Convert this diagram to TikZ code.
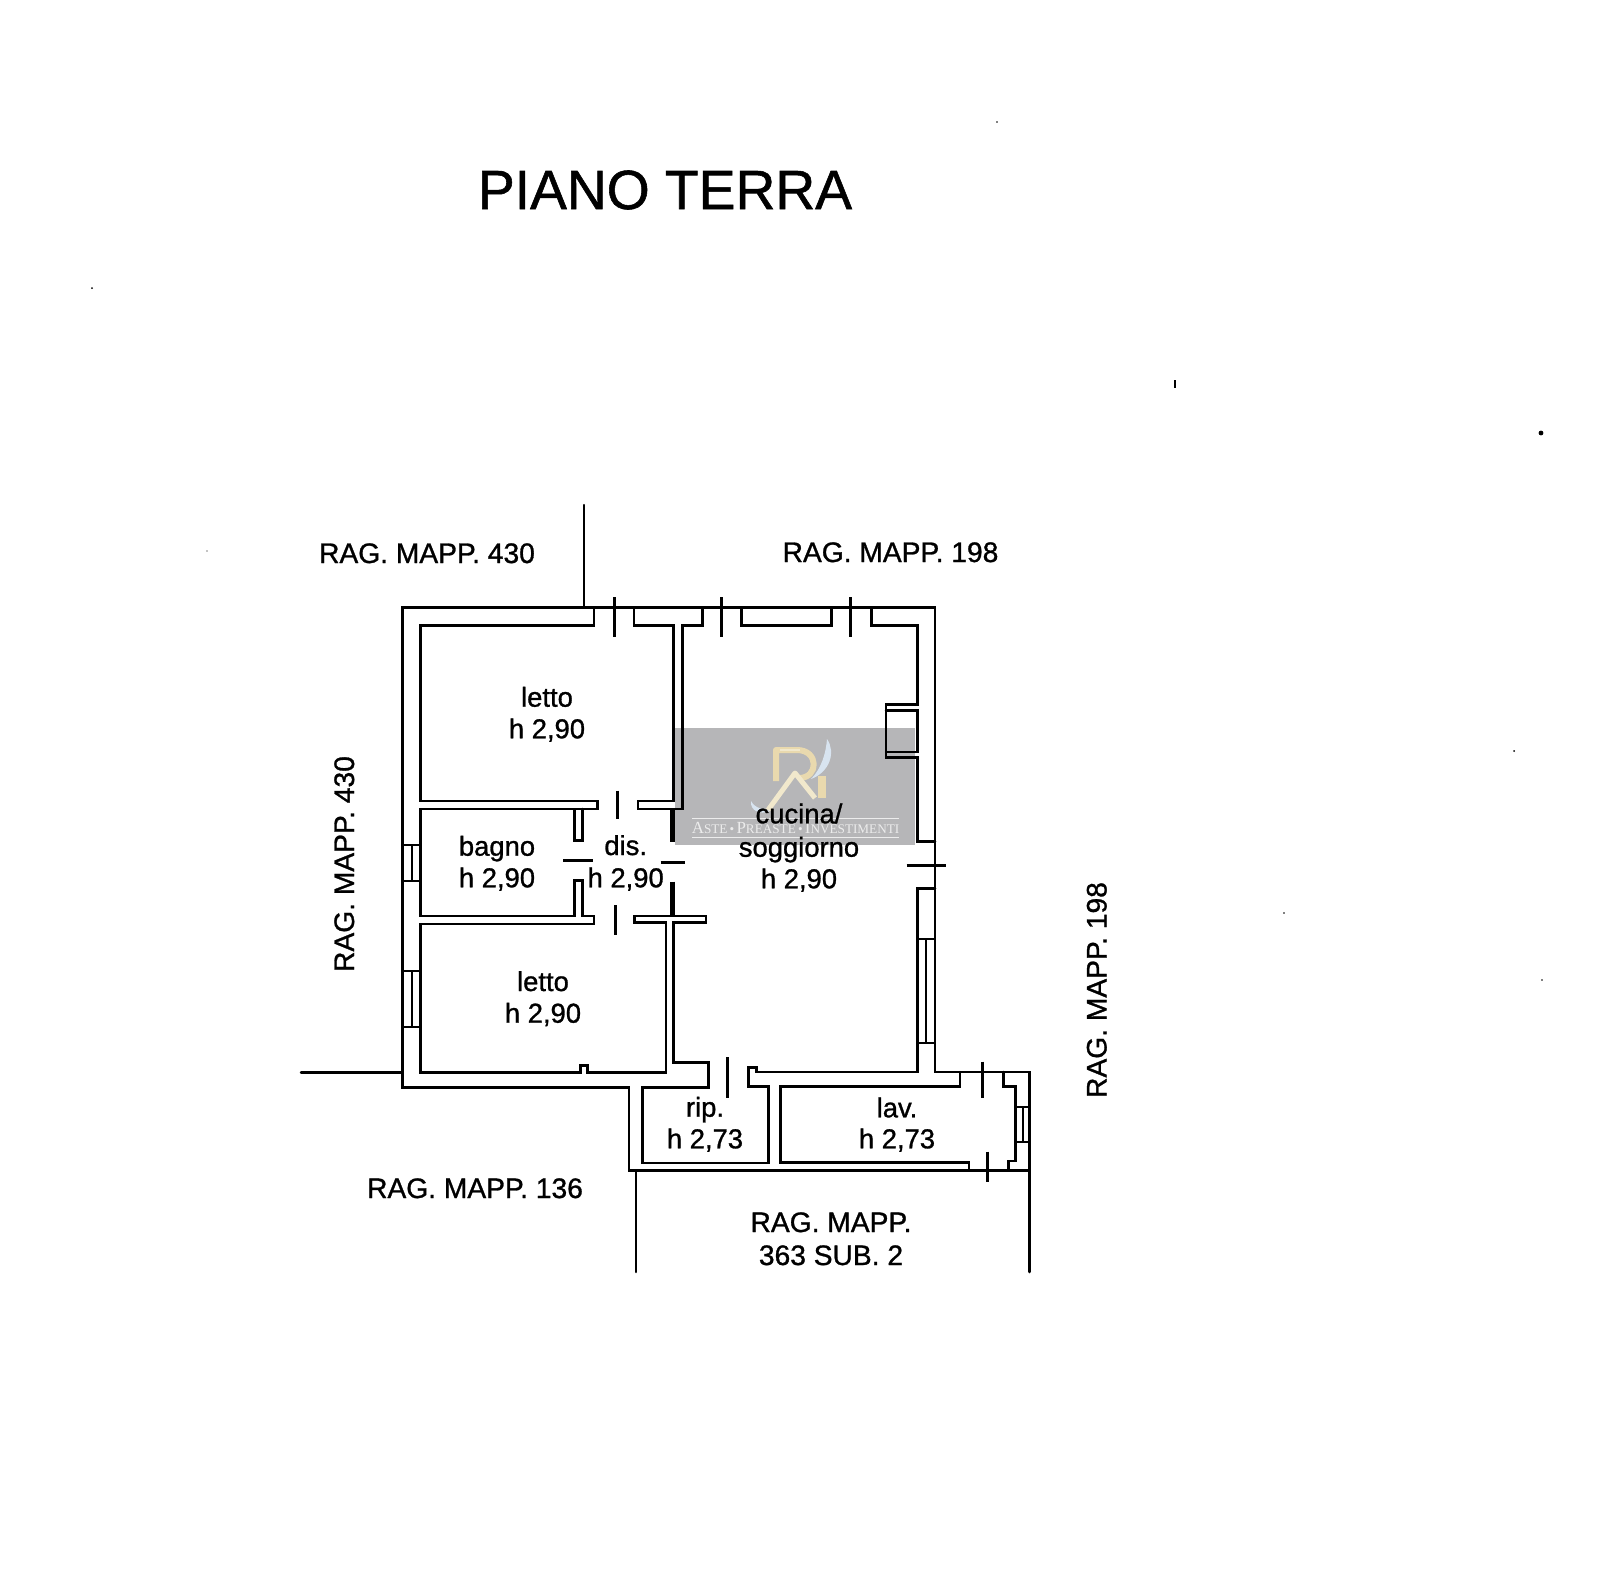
\documentclass[tikz,border=0pt]{standalone}
\usepackage{fontspec}
\setmainfont{Liberation Sans}
\newfontfamily\wmfont{Liberation Serif}
\newfontfamily\planfont[FakeBold=1.0]{Liberation Sans}
\newfontfamily\titlefont[FakeBold=1.0]{Liberation Sans}
\definecolor{wmgrey}{HTML}{B6B6B8}
\definecolor{wmgold}{HTML}{E9D9AE}
\definecolor{wmgoldb}{HTML}{F1E8CC}
\definecolor{wmblue}{HTML}{D8E4F0}
\definecolor{wmtext}{HTML}{ECECEC}
\newcommand{\fsz}[1]{\fontsize{#1}{#1}\selectfont}
\newcommand{\bg}[1]{{\fsz{17}#1}}
\newcommand{\sm}[1]{{\fsz{13.2}#1}}
\tikzset{
  wall/.style={draw=black,line width=2.5pt,line join=miter,line cap=round},
  thin wall/.style={draw=black,line width=2pt},
  door/.style={draw=black,line width=3pt,line cap=butt},
  heavy/.style={draw=black,line width=4.6pt,line cap=butt},
  lbl/.style={inner sep=0pt,anchor=base,font=\planfont\fsz{27.4},text=black},
  rag/.style={inner sep=0pt,anchor=base,font=\planfont\fsz{28.2},text=black},
  speck/.style={fill=black}
}
\begin{document}
\begin{tikzpicture}[x=1pt,y=-1pt]
\useasboundingbox (0,0) rectangle (1600,1577);
\fill[white] (0,0) rectangle (1600,1577);
% watermark
\fill[wmgrey] (675,727.5) rectangle (915,845);
\draw[wmgold,line width=6pt,line join=round] (776,781) -- (776,750) -- (797,750) .. controls (819,750) and (819,778) .. (799,778);
\draw[wmgoldb,line width=2pt] (780,750) -- (800,750);
\draw[wmgoldb,line width=5pt,line join=round] (768,810) -- (795,773) -- (815,798);
\fill[wmgold] (818,776) rectangle (826,798);
\fill[wmblue] (827,739) .. controls (836,752) and (830,772) .. (811,779) .. controls (822,768) and (826,752) .. (827,739) -- cycle;
\fill[wmblue] (751,801) .. controls (756,810) and (764,808) .. (770,811) .. controls (760,815) and (750,811) .. (751,801) -- cycle;
\draw[wmtext,line width=0.6pt] (692,818) -- (899,818);
\draw[wmtext,line width=0.6pt] (692,837) -- (899,837);
\node[inner sep=0pt,anchor=base,text=wmtext,font=\wmfont] (wm) at (795.5,833) {\bg{A}\sm{STE}\sm{\,•\,}\bg{P}\sm{REASTE}\sm{\,•\,}\bg{I}\sm{NVESTIMENTI}};
% outer walls
\draw[wall] (402.5,1072) -- (402.5,607.5) -- (935,607.5) -- (935,1072) -- (1029.3,1072) -- (1029.3,1272);
\draw[wall] (402.5,1072) -- (402.5,1087.7) -- (629,1087.7) -- (629,1170.7) -- (1029.3,1170.7);
% letto top
\draw[wall] (594,607.5) -- (594,625.7) -- (420.7,625.7) -- (420.7,801) -- (597.5,801) -- (597.5,809) -- (574.5,809) -- (574.5,840.7) -- (582.3,840.7) -- (582.3,809);
\draw[wall] (634,607.5) -- (634,625.7) -- (673.5,625.7) -- (673.5,801) -- (638,801) -- (638,809) -- (682.7,809) -- (682.7,625.7) -- (702.5,625.7) -- (702.5,607.5);
% bagno
\draw[wall] (574.5,809) -- (420.7,809) -- (420.7,916) -- (574.5,916) -- (574.5,880.7) -- (582.3,880.7) -- (582.3,916) -- (594,916) -- (594,924) -- (420.7,924) -- (420.7,1072.3) -- (580.5,1072.3) -- (580.5,1065.7) -- (587.3,1065.7) -- (587.3,1072.3) -- (666,1072.3) -- (666,922.7) -- (634.3,922.7) -- (634.3,916) -- (706,916) -- (706,922.7) -- (673.3,922.7) -- (673.3,1062.3) -- (708.3,1062.3) -- (708.3,1087.3) -- (642.3,1087.3) -- (642.3,1163) -- (768.3,1163) -- (768.3,1086.7) -- (748.3,1086.7) -- (748.3,1067.7) -- (756.7,1067.7) -- (756.7,1072) -- (917.3,1072) -- (917.3,888.3) -- (935,888.3);
% top windows jambs
\draw[wall] (741.7,607.5) -- (741.7,625.3) -- (831.7,625.3) -- (831.7,607.5);
\draw[wall] (871.7,607.5) -- (871.7,625.3) -- (917.3,625.3) -- (917.3,704.3) -- (886,704.3) -- (886,757.5) -- (917.3,757.5) -- (917.3,841.7) -- (935,841.7);
\draw[wall] (886,710.5) -- (917.3,710.5) -- (917.3,752) -- (886,752);
% service rooms
\draw[wall] (960,1072) -- (960,1086.7) -- (780.7,1086.7) -- (780.7,1162.7) -- (969,1162.7) -- (969,1170);
\draw[wall] (1003.3,1072) -- (1003.3,1086.7) -- (1015.7,1086.7) -- (1015.7,1161) -- (1008.3,1161) -- (1008.3,1170);
% windows
\draw[thin wall] (402.5,845) -- (420.7,845) (402.5,880.7) -- (420.7,880.7) (411.5,845) -- (411.5,880.7);
\draw[thin wall] (402.5,970.7) -- (420.7,970.7) (402.5,1026.7) -- (420.7,1026.7) (411.5,970.7) -- (411.5,1026.7);
\draw[thin wall] (917.3,939.3) -- (935,939.3) (917.3,1042.7) -- (935,1042.7) (925.7,939.3) -- (925.7,1042.7);
\draw[thin wall] (1015.7,1107.3) -- (1029.3,1107.3) (1015.7,1141.7) -- (1029.3,1141.7) (1022.5,1107.3) -- (1022.5,1141.7);
% door ticks
\draw[door] (614,597) -- (614,636.7);
\draw[door] (721.7,597) -- (721.7,636.7);
\draw[door] (850,597) -- (850,636.7);
\draw[door] (617.3,790.7) -- (617.3,819.3);
\draw[door] (615,905) -- (615,935);
\draw[door] (563.3,860.7) -- (593.3,860.7);
\draw[door] (660.7,862) -- (685,862);
\draw[door] (906.7,865) -- (946,865);
\draw[door] (727.7,1057.3) -- (727.7,1098.3);
\draw[door] (982.3,1061.7) -- (982.3,1098.3);
\draw[door] (987.7,1151.7) -- (987.7,1181.7);
\draw[heavy] (672.3,809) -- (672.3,841.7);
\draw[heavy] (672.3,881.7) -- (672.3,916);
% boundary lines
\draw[wall] (584,505) -- (584,607.5);
\draw[wall] (301,1072.5) -- (402.5,1072.5);
\draw[wall] (636,1170.7) -- (636,1272);
% labels
\node[inner sep=0pt,anchor=base,font=\titlefont\fsz{55.2},text=black] (title) at (665,209) {PIANO TERRA};
\node[rag] (r1) at (427,563) {RAG. MAPP. 430};
\node[rag] (r2) at (890.5,562) {RAG. MAPP. 198};
\node[rag] (r3) at (475,1198) {RAG. MAPP. 136};
\node[rag] (r4) at (831,1232) {RAG. MAPP.};
\node[rag] (r5) at (831,1265) {363 SUB. 2};
\node[rag,rotate=90] (r6) at (354,864) {RAG. MAPP. 430};
\node[rag,rotate=90] (r7) at (1106.5,990) {RAG. MAPP. 198};
\node[lbl] (a1) at (547,706.7) {letto};
\node[lbl] (a2) at (547,738.3) {h 2,90};
\node[lbl] (b1) at (497,855.7) {bagno};
\node[lbl] (b2) at (497,887.3) {h 2,90};
\node[lbl] (c1) at (625.7,855) {dis.};
\node[lbl] (c2) at (625.7,887.3) {h 2,90};
\node[lbl] (d1) at (543,991) {letto};
\node[lbl] (d2) at (543,1022.7) {h 2,90};
\node[lbl] (e1) at (799,823.3) {cucina/};
\node[lbl] (e2) at (799,856.7) {soggiorno};
\node[lbl] (e3) at (799,888.3) {h 2,90};
\node[lbl] (f1) at (705,1116.7) {rip.};
\node[lbl] (f2) at (705,1148.3) {h 2,73};
\node[lbl] (g1) at (897,1117.3) {lav.};
\node[lbl] (g2) at (897,1148.3) {h 2,73};
% specks
\fill[speck] (997,122) circle (0.8pt);
\fill[speck] (92,288) circle (1pt);
\fill[speck] (207,551) circle (0.6pt);
\fill[speck] (1174,380) rectangle (1175.5,388);
\fill[speck] (1541,433) circle (2.4pt);
\fill[speck] (1514,751) circle (1pt);
\fill[speck] (1284,913) circle (0.8pt);
\fill[speck] (1542,980) circle (0.8pt);
\end{tikzpicture}
\end{document}
